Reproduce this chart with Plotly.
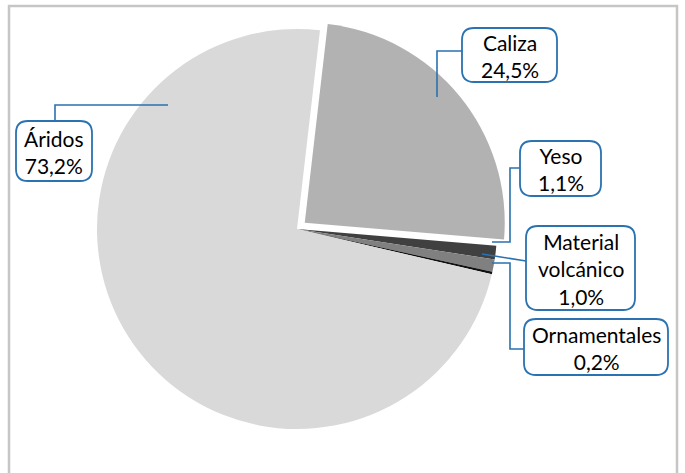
import plotly.graph_objects as go

# ---- data ----
categories = ["Caliza", "Yeso", "Material volcánico", "Ornamentales", "Áridos"]
values = [24.5, 1.1, 1.0, 0.2, 73.2]
label_texts = ["Caliza<br>24,5%", "Yeso<br>1,1%", "Material<br>volcánico<br>1,0%",
               "Ornamentales<br>0,2%", "Áridos<br>73,2%"]

# ---- style ----
colors = ["#b2b2b2", "#404040", "#808080", "#111111", "#d9d9d9"]
pulls = [0.05, 0, 0, 0, 0]
W, H = 685, 473
BLUE = "#2a72b0"
FONT = "Lato"

def px(x):
    return x / W

def py(y):
    return 1 - y / H

# label boxes (pixel rectangles x0, y0, x1, y1) and leader polylines
boxes = [
    (462, 28, 557, 82),
    (520, 141, 601, 196),
    (526, 226, 635, 310),
    (524, 319, 668, 375),
    (16, 121, 92, 181),
]
leaders = [
    [(437, 97), (437, 51), (462, 51)],
    [(492, 242), (510, 242), (510, 168), (520, 168)],
    [(482, 254), (526, 261)],
    [(492, 263), (510, 263), (510, 349), (524, 349)],
    [(168, 105), (55, 105), (55, 121)],
]

cx, cy, D = 297, 229, 420

fig = go.Figure()
fig.add_trace(go.Pie(
    labels=categories, values=values, sort=False, direction="clockwise",
    rotation=6.6, pull=pulls, textinfo="none", hoverinfo="label+percent",
    marker=dict(colors=colors, line=dict(width=0)), showlegend=False,
    domain=dict(x=[px(cx - D / 2), px(cx + D / 2)], y=[py(cy + D / 2), py(cy - D / 2)]),
))

shapes = []
# outer frame
shapes.append(dict(type="rect", xref="paper", yref="paper",
                   x0=px(9), x1=px(677), y0=py(480), y1=py(6),
                   line=dict(color="#c6c6c6", width=2.5), fillcolor="rgba(0,0,0,0)"))

def rounded(x0, y0, x1, y1, r=12):
    p = [
        f"M {px(x0 + r)},{py(y0)}",
        f"L {px(x1 - r)},{py(y0)}",
        f"Q {px(x1)},{py(y0)} {px(x1)},{py(y0 + r)}",
        f"L {px(x1)},{py(y1 - r)}",
        f"Q {px(x1)},{py(y1)} {px(x1 - r)},{py(y1)}",
        f"L {px(x0 + r)},{py(y1)}",
        f"Q {px(x0)},{py(y1)} {px(x0)},{py(y1 - r)}",
        f"L {px(x0)},{py(y0 + r)}",
        f"Q {px(x0)},{py(y0)} {px(x0 + r)},{py(y0)}",
        "Z",
    ]
    return " ".join(p)

for pts in leaders:
    path = "M " + " L ".join(f"{px(x)},{py(y)}" for x, y in pts)
    shapes.append(dict(type="path", xref="paper", yref="paper", path=path,
                       line=dict(color=BLUE, width=1.6)))

annotations = []
for (x0, y0, x1, y1), txt in zip(boxes, label_texts):
    shapes.append(dict(type="path", xref="paper", yref="paper", path=rounded(x0, y0, x1, y1),
                       line=dict(color=BLUE, width=1.8), fillcolor="white"))
    annotations.append(dict(x=px((x0 + x1) / 2), y=py((y0 + y1) / 2 + 1), xref="paper", yref="paper",
                            text=txt, showarrow=False, xanchor="center", yanchor="middle",
                            font=dict(family=FONT, size=21, color="black")))

fig.update_layout(
    width=W, height=H, margin=dict(l=0, r=0, t=0, b=0),
    paper_bgcolor="white", plot_bgcolor="white",
    shapes=shapes, annotations=annotations,
)

fig.write_html("out.html", config={"displayModeBar": False},
               post_script="document.body.style.margin='0';document.body.style.overflow='hidden';")
